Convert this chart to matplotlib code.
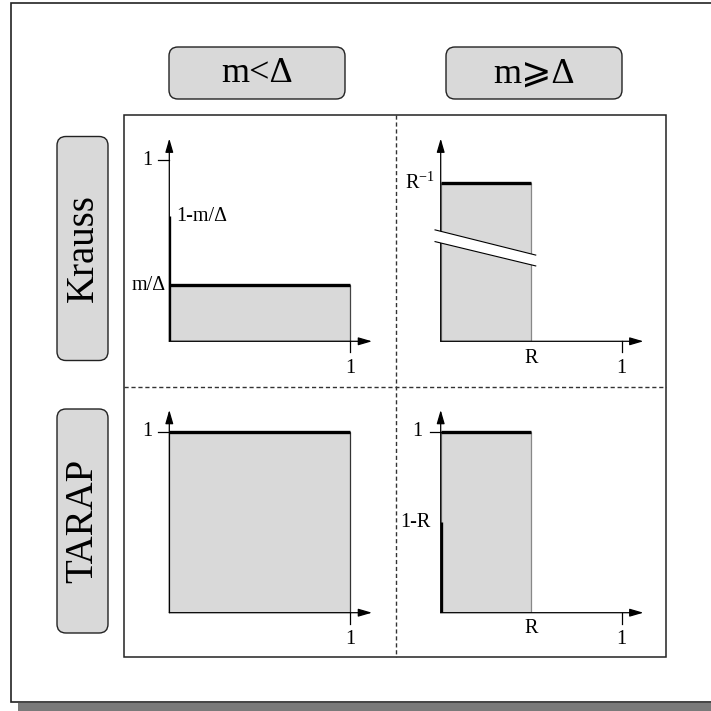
import matplotlib
matplotlib.use("Agg")
import matplotlib.pyplot as plt
import matplotlib.transforms as mtransforms
from matplotlib.patches import Rectangle, FancyBboxPatch, Polygon

plt.rcParams['font.family'] = ['Liberation Serif', 'DejaVu Serif', 'DejaVu Sans']
plt.rcParams['mathtext.fontset'] = 'custom'
plt.rcParams['mathtext.rm'] = 'Liberation Serif'
plt.rcParams['mathtext.it'] = 'Liberation Serif:italic'

# ---- schematic values -------------------------------------------------
col_labels = ["m<Δ", "m⩾Δ"]
row_labels = ["Krauss", "TARAP"]
m_over_delta = 0.31          # m/Δ
R = 0.5                      # rate R
x_end = 1.0                  # right end of the x interval

krauss_lo = dict(width=x_end, height=m_over_delta, spike=1 - m_over_delta)
krauss_hi = dict(width=R, height=1.0 / R)
tarap_lo = dict(width=x_end, height=1.0)
tarap_hi = dict(width=R, height=1.0, spike=1 - R)

# ---- styling ----------------------------------------------------------
FILL = '#d9d9d9'
EDGE = '#555555'
THICK = 2.4
FS_LAB = 14.5
W = H = 711
UNIT = 181.0                 # pixels per unit on the panel axes
EXT = 1.2                    # axes extent in units
ARROW = 1.12 / EXT           # arrow tip in axes fraction
PT = 0.72                    # points per pixel at dpi 100

fig = plt.figure(figsize=(W / 100, H / 100), dpi=100)
bg = fig.add_axes([0, 0, 1, 1])
bg.set_xlim(0, W)
bg.set_ylim(H, 0)
bg.axis('off')

# outer frame with drop shadow
bg.add_patch(Rectangle((18, 703), W, 12, facecolor='#7a7a7a', edgecolor='none'))
bg.add_patch(Rectangle((11, 3), W + 10, 699, facecolor='white', edgecolor='#222222', lw=1.2))
# panel frame and dividers
bg.add_patch(Rectangle((124, 115), 542, 542, facecolor='none', edgecolor='#222222', lw=1.1))
bg.plot([396, 396], [115, 657], color='#333333', lw=1.0, ls=(0, (3, 2)))
bg.plot([124, 666], [386.5, 386.5], color='#333333', lw=1.0, ls=(0, (3, 2)))

# column headers
for cx, lab in zip([257, 534], col_labels):
    bg.add_patch(FancyBboxPatch((cx - 88, 47), 176, 52,
                                boxstyle="round,pad=0,rounding_size=9",
                                facecolor=FILL, edgecolor='#222222', lw=1.0))
    bg.text(cx, 74, lab, fontsize=26, ha='center', va='center')

# row headers
for cy, lab in zip([248.5, 521], row_labels):
    bg.add_patch(FancyBboxPatch((57, cy - 112), 51, 224,
                                boxstyle="round,pad=0,rounding_size=9",
                                facecolor=FILL, edgecolor='#222222', lw=1.0))
    bg.text(83, cy, lab, fontsize=28, ha='center', va='center', rotation=90)


def panel(x0, y0, ymax):
    ax = fig.add_axes([x0 / W, (H - y0) / H, EXT * UNIT / W, EXT * UNIT / H])
    ax.set_xlim(0, EXT)
    ax.set_ylim(0, ymax)
    ax.axis('off')
    kw = dict(arrowstyle='-|>,head_length=0.55,head_width=0.16', mutation_scale=15,
              lw=0.9, color='black', shrinkA=0, shrinkB=0)
    ax.annotate('', xy=(ARROW, 0), xytext=(0, 0), xycoords='axes fraction',
                arrowprops=kw, zorder=5)
    ax.annotate('', xy=(0, ARROW), xytext=(0, 0), xycoords='axes fraction',
                arrowprops=kw, zorder=5)
    return ax


def xtick(ax, x, label, dy=27):
    tr = mtransforms.blended_transform_factory(ax.transData, ax.transAxes)
    ax.plot([x, x], [0, -11 / (EXT * UNIT)], color='black', lw=0.9,
            transform=tr, clip_on=False)
    ax.annotate(label, xy=(x, 0), xytext=(0, -dy * PT), textcoords='offset points',
                ha='center', va='center', fontsize=FS_LAB)


def ytick(ax, y, label, dx=22):
    tr = mtransforms.blended_transform_factory(ax.transAxes, ax.transData)
    ax.plot([-11 / (EXT * UNIT), 0], [y, y], color='black', lw=0.9,
            transform=tr, clip_on=False)
    ax.annotate(label, xy=(0, y), xytext=(-dx * PT, 0), textcoords='offset points',
                ha='center', va='center', fontsize=FS_LAB)


def region(ax, width, height, edge=EDGE):
    ax.bar(0, height, width, align='edge', color=FILL, edgecolor=edge, lw=0.9, zorder=2)
    ax.plot([0, width], [height, height], color='black', lw=THICK,
            solid_capstyle='butt', zorder=4)


# Krauss, m < Δ
ax = panel(169.3, 341.3, EXT)
region(ax, krauss_lo['width'], krauss_lo['height'], edge='#444444')
ax.plot([0, 0], [0, krauss_lo['spike']], color='black', lw=THICK,
        solid_capstyle='butt', zorder=6)
ytick(ax, 1, '1')
xtick(ax, x_end, '1')
ax.annotate('1-m/Δ', xy=(0, krauss_lo['spike']), xytext=(7 * PT, 0),
            textcoords='offset points', ha='left', va='center', fontsize=FS_LAB)
ax.annotate('m/Δ', xy=(0, krauss_lo['height']), xytext=(-4 * PT, 0),
            textcoords='offset points', ha='right', va='center', fontsize=FS_LAB)

# Krauss, m ≥ Δ  (broken vertical scale)
ax = panel(440.7, 341.3, krauss_hi['height'] * 1.375)
region(ax, krauss_hi['width'], krauss_hi['height'], edge='#888888')
xtick(ax, x_end, '1')
ax.annotate('R', xy=(R, 0), xytext=(0, -17 * PT), textcoords='offset points',
            ha='center', va='center', fontsize=FS_LAB)
ax.annotate(r'$\mathrm{R}^{\mathrm{-1}}$', xy=(0, krauss_hi['height']),
            xytext=(-6 * PT, 0), textcoords='offset points',
            ha='right', va='center', fontsize=FS_LAB)
# axis break
bx0, bx1 = -0.026, 0.4375
up = (0.513, 0.397)
lo = (0.459, 0.347)
ax.add_patch(Polygon([(bx0, up[0]), (bx1, up[1]), (bx1, lo[1]), (bx0, lo[0])],
                     closed=True, facecolor='white', edgecolor='none',
                     transform=ax.transAxes, zorder=7, clip_on=False))
ax.plot([bx0, bx1], up, color='black', lw=0.8, transform=ax.transAxes,
        zorder=8, clip_on=False)
ax.plot([bx0, bx1], lo, color='black', lw=0.8, transform=ax.transAxes,
        zorder=8, clip_on=False)

# TARAP, m < Δ
ax = panel(169.3, 612.7, EXT)
region(ax, tarap_lo['width'], tarap_lo['height'], edge='#333333')
ytick(ax, 1, '1')
xtick(ax, x_end, '1')

# TARAP, m ≥ Δ
ax = panel(440.7, 612.7, EXT)
region(ax, tarap_hi['width'], tarap_hi['height'], edge='#888888')
ax.plot([0, 0], [0, tarap_hi['spike']], color='black', lw=THICK,
        solid_capstyle='butt', zorder=6)
ytick(ax, 1, '1', dx=23)
xtick(ax, x_end, '1')
ax.annotate('R', xy=(R, 0), xytext=(0, -16 * PT), textcoords='offset points',
            ha='center', va='center', fontsize=FS_LAB)
ax.annotate('1-R', xy=(0, tarap_hi['spike']), xytext=(-10 * PT, 0),
            textcoords='offset points', ha='right', va='center', fontsize=FS_LAB)

fig.savefig('out.png', dpi=100)
